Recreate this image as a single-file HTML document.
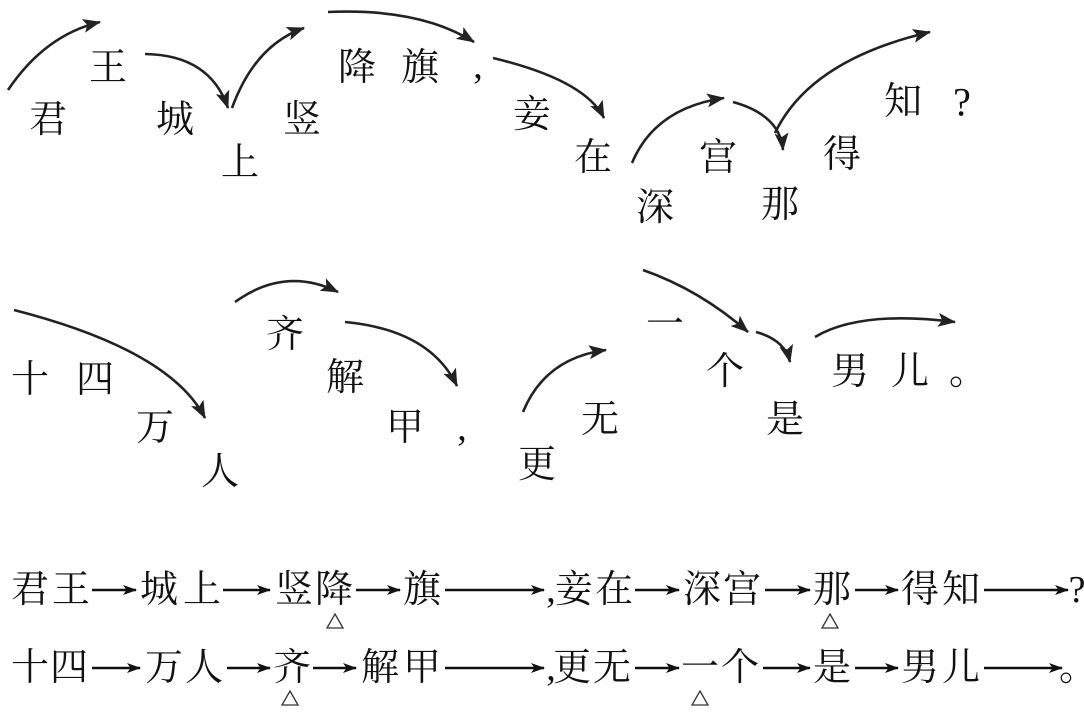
<!DOCTYPE html>
<html><head><meta charset="utf-8"><style>
html,body{margin:0;padding:0;background:#fff;width:1084px;height:712px;overflow:hidden}
svg text{font-family:"Liberation Serif","Noto Serif CJK SC",serif;fill:#111}
</style></head><body>
<svg width="1084" height="712" viewBox="0 0 1084 712" xmlns="http://www.w3.org/2000/svg">
<defs>
<marker id="a" markerWidth="14" markerHeight="10" refX="13" refY="5" orient="auto" markerUnits="userSpaceOnUse" viewBox="0 0 14 10">
<path d="M0,0 L14,5 L0,10 L3.5,5 Z" fill="#111"/></marker>
<marker id="b" markerWidth="18" markerHeight="14" refX="17" refY="7" orient="auto" markerUnits="userSpaceOnUse" viewBox="0 0 18 14">
<path d="M0,0 L18,7 L0,14 L4,7 Z" fill="#222"/></marker>
</defs>
<g fill="none" stroke="#222" stroke-width="2.6" marker-end="url(#b)">
<path d="M8,90 Q45,35 100,22"/>
<path d="M145,54 Q210,55 228,108"/>
<path d="M232,108 Q255,45 304,28"/>
<path d="M328,12 Q420,8 474,42"/>
<path d="M493,58 Q585,80 604,118"/>
<path d="M632,163 Q655,108 724,98"/>
<path d="M733,102 Q780,115 783,150"/>
<path d="M775,133 Q810,60 930,32"/>
<path d="M14,310 Q170,350 205,418"/>
<path d="M235,302 Q285,266 338,292"/>
<path d="M345,322 Q430,330 457,386"/>
<path d="M523,412 Q545,358 606,350"/>
<path d="M643,270 Q700,290 748,332"/>
<path d="M756,332 Q785,340 790,362"/>
<path d="M815,337 Q860,310 955,322"/>
</g>
<g font-size="38" text-anchor="middle" dominant-baseline="central">
<text x="48" y="120">君</text><text x="108" y="68">王</text><text x="175" y="120">城</text>
<text x="240" y="163">上</text><text x="302" y="120">竖</text><text x="357" y="68">降</text>
<text x="420" y="68">旗</text><text x="478" y="66">,</text><text x="532" y="115">妾</text>
<text x="593" y="158">在</text><text x="655" y="208">深</text><text x="718" y="158">宫</text>
<text x="780" y="205">那</text><text x="842" y="155">得</text><text x="903" y="102">知</text>
<text x="962" y="102" font-size="40">?</text>
<text x="30" y="380">十</text><text x="95" y="380">四</text><text x="155" y="428">万</text>
<text x="220" y="472">人</text><text x="285" y="335">齐</text><text x="345" y="378">解</text>
<text x="405" y="428">甲</text><text x="462" y="428">,</text><text x="537" y="465">更</text>
<text x="600" y="420">无</text><text x="665" y="325">一</text><text x="725" y="372">个</text>
<text x="785" y="420">是</text><text x="850" y="372">男</text><text x="910" y="372">儿</text>
<text x="968" y="372">。</text>
</g>
<g font-size="38" text-anchor="middle" dominant-baseline="central">
<text x="30" y="590">君</text><text x="71" y="590">王</text><text x="159" y="590">城</text><text x="202" y="590">上</text>
<text x="294" y="590">竖</text><text x="334" y="590">降</text><text x="422" y="590">旗</text><text x="551" y="590">,</text>
<text x="574" y="590">妾</text><text x="614" y="590">在</text><text x="702" y="590">深</text><text x="742" y="590">宫</text>
<text x="832" y="590">那</text><text x="920" y="590">得</text><text x="961" y="590">知</text><text x="1077" y="590">?</text>
<text x="30" y="668">十</text><text x="69" y="668">四</text><text x="164" y="668">万</text><text x="204" y="668">人</text>
<text x="292" y="668">齐</text><text x="380" y="668">解</text><text x="422" y="668">甲</text><text x="551" y="668">,</text>
<text x="572" y="668">更</text><text x="612" y="668">无</text><text x="700" y="668">一</text><text x="740" y="668">个</text>
<text x="832" y="668">是</text><text x="920" y="668">男</text><text x="961" y="668">儿</text><text x="1078" y="668">。</text>
</g>
<g fill="none" stroke="#111" stroke-width="2.4" marker-end="url(#a)">
<path d="M92,590 H136"/><path d="M223,590 H270"/><path d="M356,590 H400"/><path d="M445,590 H544"/>
<path d="M635,590 H679"/><path d="M765,590 H810"/><path d="M855,590 H898"/><path d="M984,590 H1068"/>
<path d="M92,668 H140"/><path d="M227,668 H270"/><path d="M313,668 H356"/><path d="M445,668 H544"/>
<path d="M635,668 H679"/><path d="M763,668 H810"/><path d="M855,668 H898"/><path d="M984,668 H1062"/>
</g>
<g fill="#fff" stroke="#333" stroke-width="1.3">
<path d="M335,614 L343,628 L327,628 Z"/><path d="M830,614 L838,628 L822,628 Z"/>
<path d="M290,691 L298,705 L282,705 Z"/><path d="M700,691 L708,705 L692,705 Z"/>
</g>
</svg>
</body></html>
